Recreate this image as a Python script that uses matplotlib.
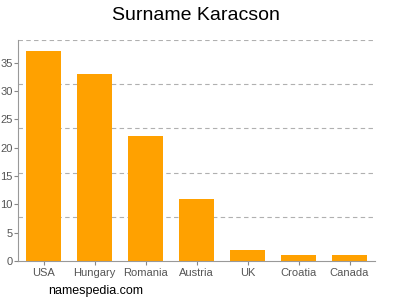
import matplotlib
matplotlib.use("Agg")
import matplotlib.pyplot as plt
import numpy as np

categories = ["USA", "Hungary", "Romania", "Austria", "UK", "Croatia", "Canada"]
values = [37, 33, 22, 11, 2, 1, 1]
yticks = [0, 5, 10, 15, 20, 25, 30, 35]

plt.rcParams['font.family'] = ['Liberation Sans', 'DejaVu Sans']

fig = plt.figure(figsize=(4, 3), dpi=100)
ax = fig.add_axes([0.045, 0.13, 0.8925, 0.737])

x = np.arange(len(categories))
ax.bar(x, values, width=0.7, color="#FFA100", zorder=2)

ymax = 39
ax.set_ylim(0, ymax)
ax.set_xlim(-0.5, len(categories) - 0.5)
for g in np.linspace(ymax / 5, ymax, 5):
    ax.axhline(g, color="#b0b0b0", linestyle=(0, (4, 3)), linewidth=0.8, zorder=1)

ax.set_yticks(yticks)
ax.set_xticks(x)
ax.set_xticklabels(categories)
ax.tick_params(axis="both", colors="#888888", labelcolor="#555555", labelsize=8, length=3, width=0.8)
ax.tick_params(axis="y", pad=1)
ax.tick_params(axis="x", pad=2)

for s in ["top", "right"]:
    ax.spines[s].set_visible(False)
for s in ["left", "bottom"]:
    ax.spines[s].set_color("#999999")
    ax.spines[s].set_linewidth(0.8)

fig.text(0.49, 0.95, "Surname Karacson", ha="center", va="center", fontsize=14, color="#000000")
fig.text(0.12, 0.03, "namespedia.com", ha="left", va="center", fontsize=9, color="#000000")

fig.savefig("out.png", dpi=100)
